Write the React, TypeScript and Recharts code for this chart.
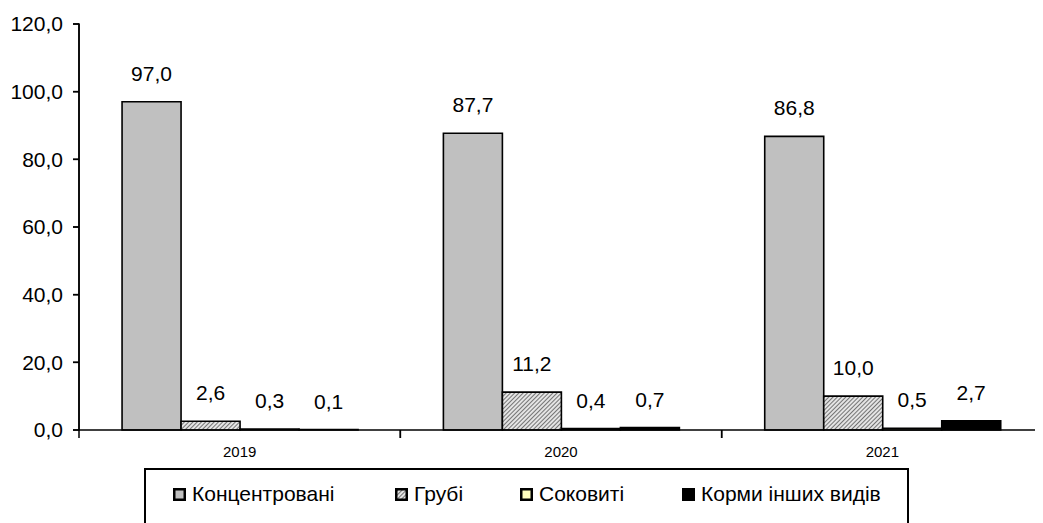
import React from "react";
import { BarChart, Bar, XAxis, YAxis, LabelList } from "recharts";

const years = ["2019", "2020", "2021"];
const concentrated = [97.0, 87.7, 86.8];
const coarse = [2.6, 11.2, 10.0];
const succulent = [0.3, 0.4, 0.5];
const other = [0.1, 0.7, 2.7];
const yTicks = [0, 20, 40, 60, 80, 100, 120];

const seriesNames = ["Концентровані", "Грубі", "Соковиті", "Корми інших видів"];
const seriesKeys = ["conc", "coarse", "succ", "other"];
const seriesFills = ["#C0C0C0", "url(#hatch)", "#FFFFC0", "#000000"];

const data = years.map((y, i) => ({
  year: y,
  conc: concentrated[i],
  coarse: coarse[i],
  succ: succulent[i],
  other: other[i],
}));

const fmt = (v: number) => Number(v).toFixed(1).replace(".", ",");
const FONT = "'Liberation Sans', Arial, sans-serif";
const CHART_W = 1035;
const CHART_H = 515;
const Y_AXIS_W = 71;
const X_AXIS_H = 30;
const MARGIN = { top: 16, right: 0, left: 0, bottom: 63 };
const TICK_SIZE = 8;
const TICK_MARGIN = 8;
const Y_TICK_SIZE = 6;
const Y_TICK_MARGIN = 10;

const CatTick = (props: any) => {
  const x = Number(props.x);
  const y = Number(props.y);
  const { payload, width, visibleTicksCount } = props;
  const n = visibleTicksCount || years.length;
  const bw = width ? Number(width) / n : 0;
  const axisY = y - TICK_SIZE - TICK_MARGIN;
  return (
    <g>
      {bw > 0 && (
        <line x1={x - bw / 2} x2={x - bw / 2} y1={axisY} y2={axisY + TICK_SIZE} stroke="#000" strokeWidth={1.5} />
      )}
      {bw > 0 && (
        <line x1={x + bw / 2} x2={x + bw / 2} y1={axisY} y2={axisY + TICK_SIZE} stroke="#000" strokeWidth={1.5} />
      )}
      <text x={x} y={y} dy="0.71em" textAnchor="middle" fill="#000" fontSize={15} fontFamily={FONT}>
        {payload.value}
      </text>
    </g>
  );
};

const ValTick = (props: any) => {
  const x = Number(props.x);
  const y = Number(props.y);
  const { payload } = props;
  return (
    <text x={x} y={y} dy="0.355em" textAnchor="end" fill="#000" fontSize={21} fontFamily={FONT}>
      {fmt(payload.value)}
    </text>
  );
};

// y-axis frame (axis line + tick marks) drawn as an overlay aligned with the plot area
const YFrame = () => {
  const plotTop = MARGIN.top;
  const plotH = CHART_H - MARGIN.top - MARGIN.bottom - X_AXIS_H;
  const axisX = MARGIN.left + Y_AXIS_W;
  const lo = yTicks[0];
  const hi = yTicks[yTicks.length - 1];
  const toY = (v: number) => plotTop + plotH * (1 - (v - lo) / (hi - lo));
  return (
    <svg
      width={CHART_W}
      height={CHART_H}
      style={{ position: "absolute", left: 0, top: 0, pointerEvents: "none" }}
    >
      <line x1={axisX} x2={axisX} y1={plotTop - 0.75} y2={plotTop + plotH + 0.75} stroke="#000" strokeWidth={1.5} />
      {yTicks.map((t) => (
        <line key={t} x1={axisX - Y_TICK_SIZE} x2={axisX} y1={toY(t)} y2={toY(t)} stroke="#000" strokeWidth={1.5} />
      ))}
    </svg>
  );
};

export default function App() {
  return (
    <div style={{ position: "relative", width: CHART_W, height: CHART_H, overflow: "hidden", fontFamily: FONT }}>
      <BarChart
        width={CHART_W}
        height={CHART_H}
        data={data}
        margin={MARGIN}
        barCategoryGap="13.4%"
        barGap={0}
      >
        <defs>
          <pattern id="hatch" width="3" height="3" patternUnits="userSpaceOnUse" patternTransform="rotate(45)">
            <rect width="3" height="3" fill="#e4e4e4" />
            <line x1="0" y1="0" x2="0" y2="3" stroke="#444" strokeWidth="1.4" />
          </pattern>
        </defs>
        <XAxis
          dataKey="year"
          height={X_AXIS_H}
          stroke="#000"
          strokeWidth={1.5}
          axisLine={true}
          tickLine={false}
          tickSize={TICK_SIZE}
          tickMargin={TICK_MARGIN}
          tick={<CatTick />}
          interval={0}
        />
        <YAxis
          width={Y_AXIS_W}
          domain={[0, 120]}
          ticks={yTicks}
          interval={0}
          stroke="#000"
          strokeWidth={1.5}
          axisLine={true}
          tickLine={true}
          tick={<ValTick />}
          tickSize={Y_TICK_SIZE}
          tickMargin={Y_TICK_MARGIN}
        />
        {seriesKeys.map((k, i) => (
          <Bar
            key={k}
            dataKey={k}
            name={seriesNames[i]}
            fill={seriesFills[i]}
            stroke="#000"
            strokeWidth={1.6}
            isAnimationActive={false}
          >
            <LabelList
              dataKey={k}
              position="top"
              offset={21}
              formatter={(v: any) => fmt(Number(v))}
              style={{ fill: "#000", fontSize: 21, fontFamily: FONT }}
            />
          </Bar>
        ))}
      </BarChart>
      <YFrame />
      <div
        style={{
          position: "absolute",
          left: 136,
          top: 460,
          width: 765,
          height: 80,
          border: "2px solid #000",
          boxSizing: "border-box",
          background: "#fff",
        }}
      >
        {seriesNames.map((n, i) => {
          const lefts = [27, 249, 374, 536];
          return (
            <div
              key={n}
              style={{
                position: "absolute",
                left: lefts[i],
                top: 12,
                display: "flex",
                alignItems: "center",
                fontSize: 21,
                color: "#000",
                whiteSpace: "nowrap",
              }}
            >
              <svg width={13} height={13} style={{ marginRight: 6 }}>
                <defs>
                  <pattern id={"lh" + i} width="3" height="3" patternUnits="userSpaceOnUse" patternTransform="rotate(45)">
                    <rect width="3" height="3" fill="#e4e4e4" />
                    <line x1="0" y1="0" x2="0" y2="3" stroke="#444" strokeWidth="1.4" />
                  </pattern>
                </defs>
                <rect
                  x={1.25}
                  y={1.25}
                  width={10.5}
                  height={10.5}
                  fill={i === 1 ? "url(#lh1)" : seriesFills[i]}
                  stroke="#000"
                  strokeWidth={2.5}
                />
              </svg>
              <span>{n}</span>
            </div>
          );
        })}
      </div>
    </div>
  );
}
